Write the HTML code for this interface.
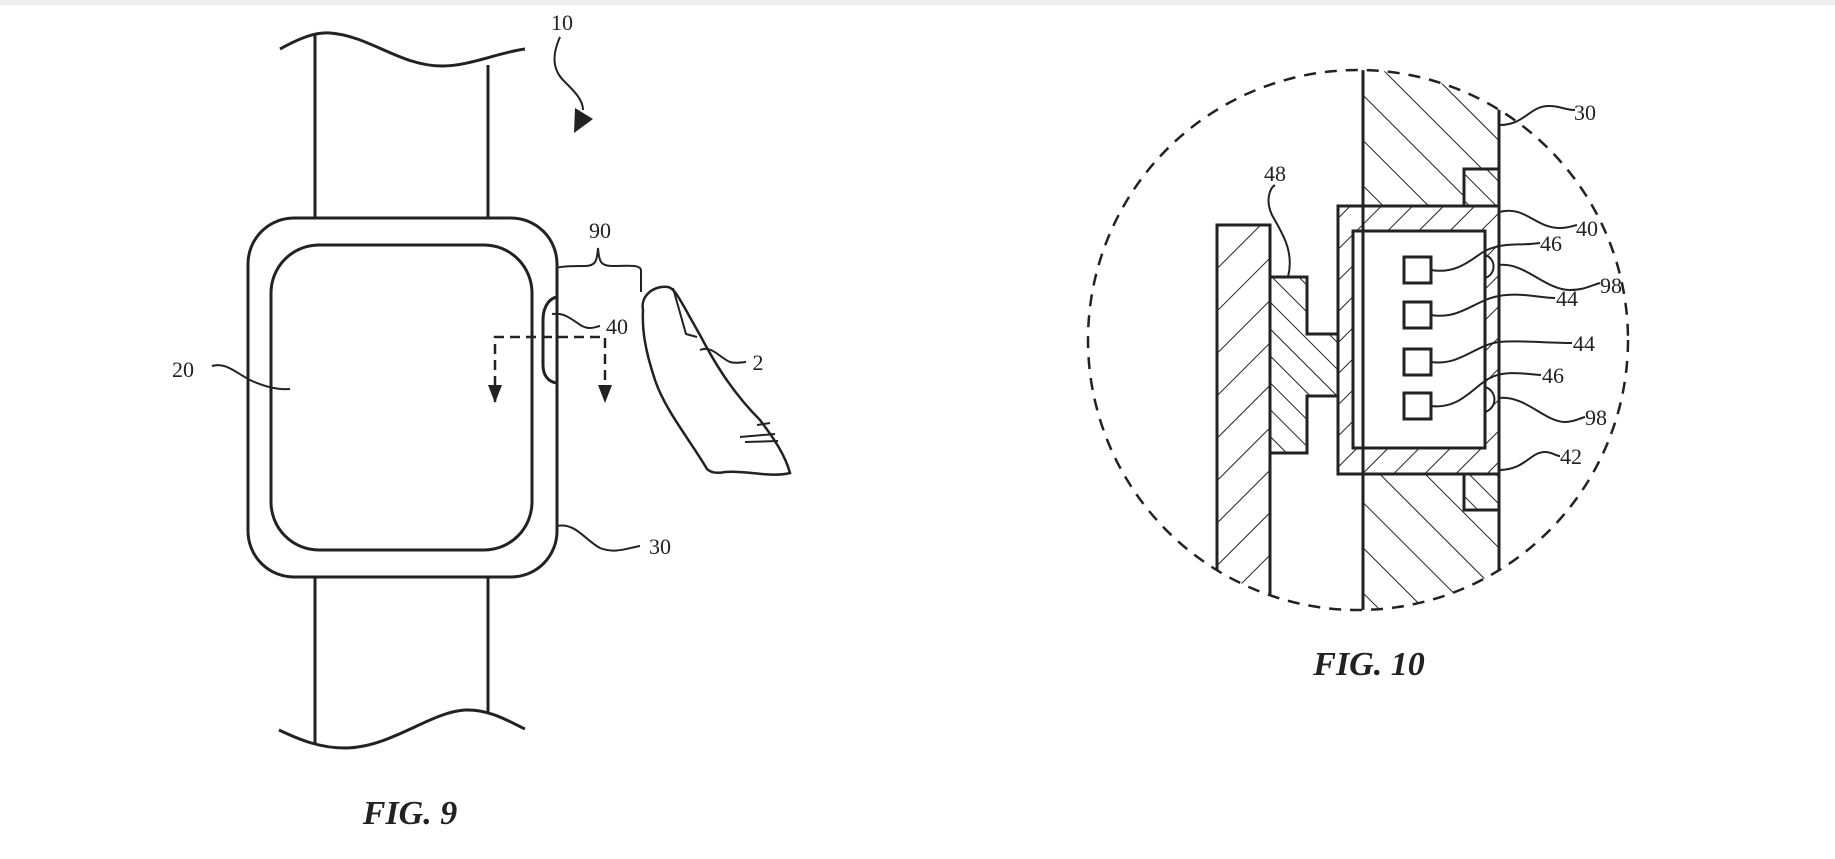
<!DOCTYPE html>
<html><head><meta charset="utf-8"><style>
html,body{margin:0;padding:0;background:#fff;}
svg{display:block;}
text{font-family:"Liberation Serif",serif;fill:#222;}
</style></head><body>
<svg width="1835" height="859" viewBox="0 0 1835 859" xmlns="http://www.w3.org/2000/svg">
<defs>
<pattern id="hA" patternUnits="userSpaceOnUse" width="32" height="32" patternTransform="rotate(-45)"><line x1="0" y1="0" x2="0" y2="32" stroke="#222" stroke-width="2"/></pattern>
<pattern id="hB" patternUnits="userSpaceOnUse" width="30" height="30" patternTransform="rotate(45)"><line x1="0" y1="0" x2="0" y2="30" stroke="#222" stroke-width="2"/></pattern>
<pattern id="hC" patternUnits="userSpaceOnUse" width="22" height="22" patternTransform="rotate(45)"><line x1="0" y1="0" x2="0" y2="22" stroke="#222" stroke-width="2"/></pattern>
<pattern id="hD" patternUnits="userSpaceOnUse" width="19" height="19" patternTransform="rotate(-45)"><line x1="0" y1="0" x2="0" y2="19" stroke="#222" stroke-width="2"/></pattern>
<clipPath id="circ"><circle cx="1358" cy="340" r="270"/></clipPath>
</defs>
<rect x="0" y="0" width="1835" height="5" fill="#eee"/>
<g fill="none" stroke="#222" stroke-width="3">
<path d="M280,49 C300,38 315,32 330,33 C370,36 400,66 442,66 C470,66 500,52 525,49"/>
<line x1="315" y1="33" x2="315" y2="218"/>
<line x1="488" y1="65" x2="488" y2="218"/>
<line x1="315" y1="577" x2="315" y2="745"/>
<line x1="488" y1="577" x2="488" y2="713"/>
<path d="M279,730 C300,740 320,748 345,748 C390,748 430,712 465,710 C490,709 510,722 525,729"/>
<rect x="248" y="218" width="309" height="359" rx="46"/>
<rect x="271" y="245" width="261" height="305" rx="48"/>
<path d="M557,297 C547,299 543,310 543,320 L543,365 C543,375 548,382 557,383"/>
</g>
<g fill="none" stroke="#222" stroke-width="2">
<path d="M557,270 L557,268 C560,266 575,266 585,266 C595,266 597,262 598,248 C599,262 601,266 612,266 C625,266 640,264 641,270 L641,292"/>
<path d="M495,402 L495,337 L605,337 L605,402" stroke-dasharray="10,6" stroke-width="2.5"/>
<path d="M560,37 C552,55 552,70 565,82 C575,92 583,100 583,110"/>
<path d="M643,310 C640,295 655,285 668,287 C675,288 680,300 700,335 C712,358 730,390 760,420 C775,440 785,455 790,473 C770,478 745,470 725,472 C715,474 710,472 707,469 C690,440 665,410 655,380 C645,350 642,330 643,310 Z" stroke-width="2.5"/>
<path d="M673,288 L686,334 L697,337"/>
<path d="M740,437 L775,434 M745,442 L778,441 M757,425 L770,423"/>
<path d="M212,366 C225,362 235,372 250,380 C265,387 278,390 290,389"/>
<path d="M552,314 C565,312 572,320 582,326 C590,330 595,327 600,326"/>
<path d="M700,350 C712,345 720,358 730,362 C737,364 742,362 746,362"/>
<path d="M557,526 C575,522 585,540 600,548 C615,554 628,548 640,546"/>
</g>
<g fill="#222">
<polygon points="488,385 502,385 495,403"/>
<polygon points="598,385 612,385 605,403"/>
<polygon points="575,108 593,119 574,133"/>
</g>
<g font-size="22">
<text x="562" y="30" text-anchor="middle">10</text>
<text x="600" y="238" text-anchor="middle">90</text>
<text x="617" y="334" text-anchor="middle">40</text>
<text x="183" y="377" text-anchor="middle">20</text>
<text x="758" y="370" text-anchor="middle">2</text>
<text x="660" y="554" text-anchor="middle">30</text>
</g>
<text x="410" y="824" font-size="34" font-weight="bold" font-style="italic" text-anchor="middle">FIG. 9</text>

<g clip-path="url(#circ)" stroke="#222" stroke-width="3">
<path d="M1363,60 L1499,60 L1499,169 L1464,169 L1464,206 L1363,206 Z" fill="url(#hA)"/>
<path d="M1363,474 L1464,474 L1464,510 L1499,510 L1499,620 L1363,620 Z" fill="url(#hA)"/>
<rect x="1464" y="169" width="35" height="37" fill="url(#hD)"/>
<rect x="1464" y="474" width="35" height="36" fill="url(#hD)"/>
<rect x="1217" y="225" width="53" height="400" fill="url(#hB)"/>
</g>
<g stroke="#222" stroke-width="3">
<path d="M1338,206 L1499,206 L1499,474 L1338,474 Z M1353,231 L1353,448 L1485,448 L1485,231 Z" fill="url(#hC)" fill-rule="evenodd"/>
<path d="M1270,277 L1307,277 L1307,334 L1338,334 L1338,396 L1307,396 L1307,453 L1270,453 Z" fill="url(#hD)"/>
<rect x="1353" y="231" width="132" height="217" fill="#fff"/>
<rect x="1404" y="257" width="27" height="26" fill="#fff"/>
<rect x="1404" y="302" width="27" height="26" fill="#fff"/>
<rect x="1404" y="349" width="27" height="26" fill="#fff"/>
<rect x="1404" y="393" width="27" height="26" fill="#fff"/>
</g>
<g fill="none" stroke="#222" stroke-width="2">
<path d="M1485,255 A12,12 0 0 1 1485,278"/>
<path d="M1485,387 A13,13 0 0 1 1485,412"/>
<circle cx="1358" cy="340" r="270" stroke-dasharray="12,9" stroke-width="2.5"/>
<path d="M1363,71 L1363,608" stroke-width="3"/>
<path d="M1499,110 L1499,568" stroke-width="3"/>
<path d="M1270,225 L1270,570" stroke-width="3"/>
<path d="M1217,225 L1217,570" stroke-width="3"/>
<path d="M1500,125 C1525,125 1530,105 1550,106 C1560,106 1565,110 1575,110"/>
<path d="M1499,212 C1525,205 1535,228 1560,228 C1568,228 1572,226 1577,225"/>
<path d="M1431,270 C1460,275 1475,255 1487,250 C1505,242 1520,246 1540,243"/>
<path d="M1499,265 C1525,262 1545,290 1570,290 C1585,290 1592,285 1600,283"/>
<path d="M1431,315 C1460,320 1475,300 1499,296 C1520,292 1540,298 1555,298"/>
<path d="M1431,362 C1460,366 1475,345 1499,342 C1520,340 1545,343 1572,343"/>
<path d="M1431,406 C1460,410 1475,385 1490,378 C1505,370 1525,374 1541,375"/>
<path d="M1499,398 C1525,395 1545,422 1565,422 C1575,422 1580,418 1585,417"/>
<path d="M1499,470 C1525,470 1530,452 1545,452 C1552,452 1556,456 1560,456"/>
<path d="M1288,277 C1295,250 1280,230 1272,215 C1265,200 1270,188 1275,185"/>
</g>
<g font-size="22">
<text x="1585" y="120" text-anchor="middle">30</text>
<text x="1275" y="181" text-anchor="middle">48</text>
<text x="1587" y="236" text-anchor="middle">40</text>
<text x="1551" y="251" text-anchor="middle">46</text>
<text x="1611" y="293" text-anchor="middle">98</text>
<text x="1567" y="306" text-anchor="middle">44</text>
<text x="1584" y="351" text-anchor="middle">44</text>
<text x="1553" y="383" text-anchor="middle">46</text>
<text x="1596" y="425" text-anchor="middle">98</text>
<text x="1571" y="464" text-anchor="middle">42</text>
</g>
<text x="1369" y="675" font-size="34" font-weight="bold" font-style="italic" text-anchor="middle">FIG. 10</text>
</svg>
</body></html>
